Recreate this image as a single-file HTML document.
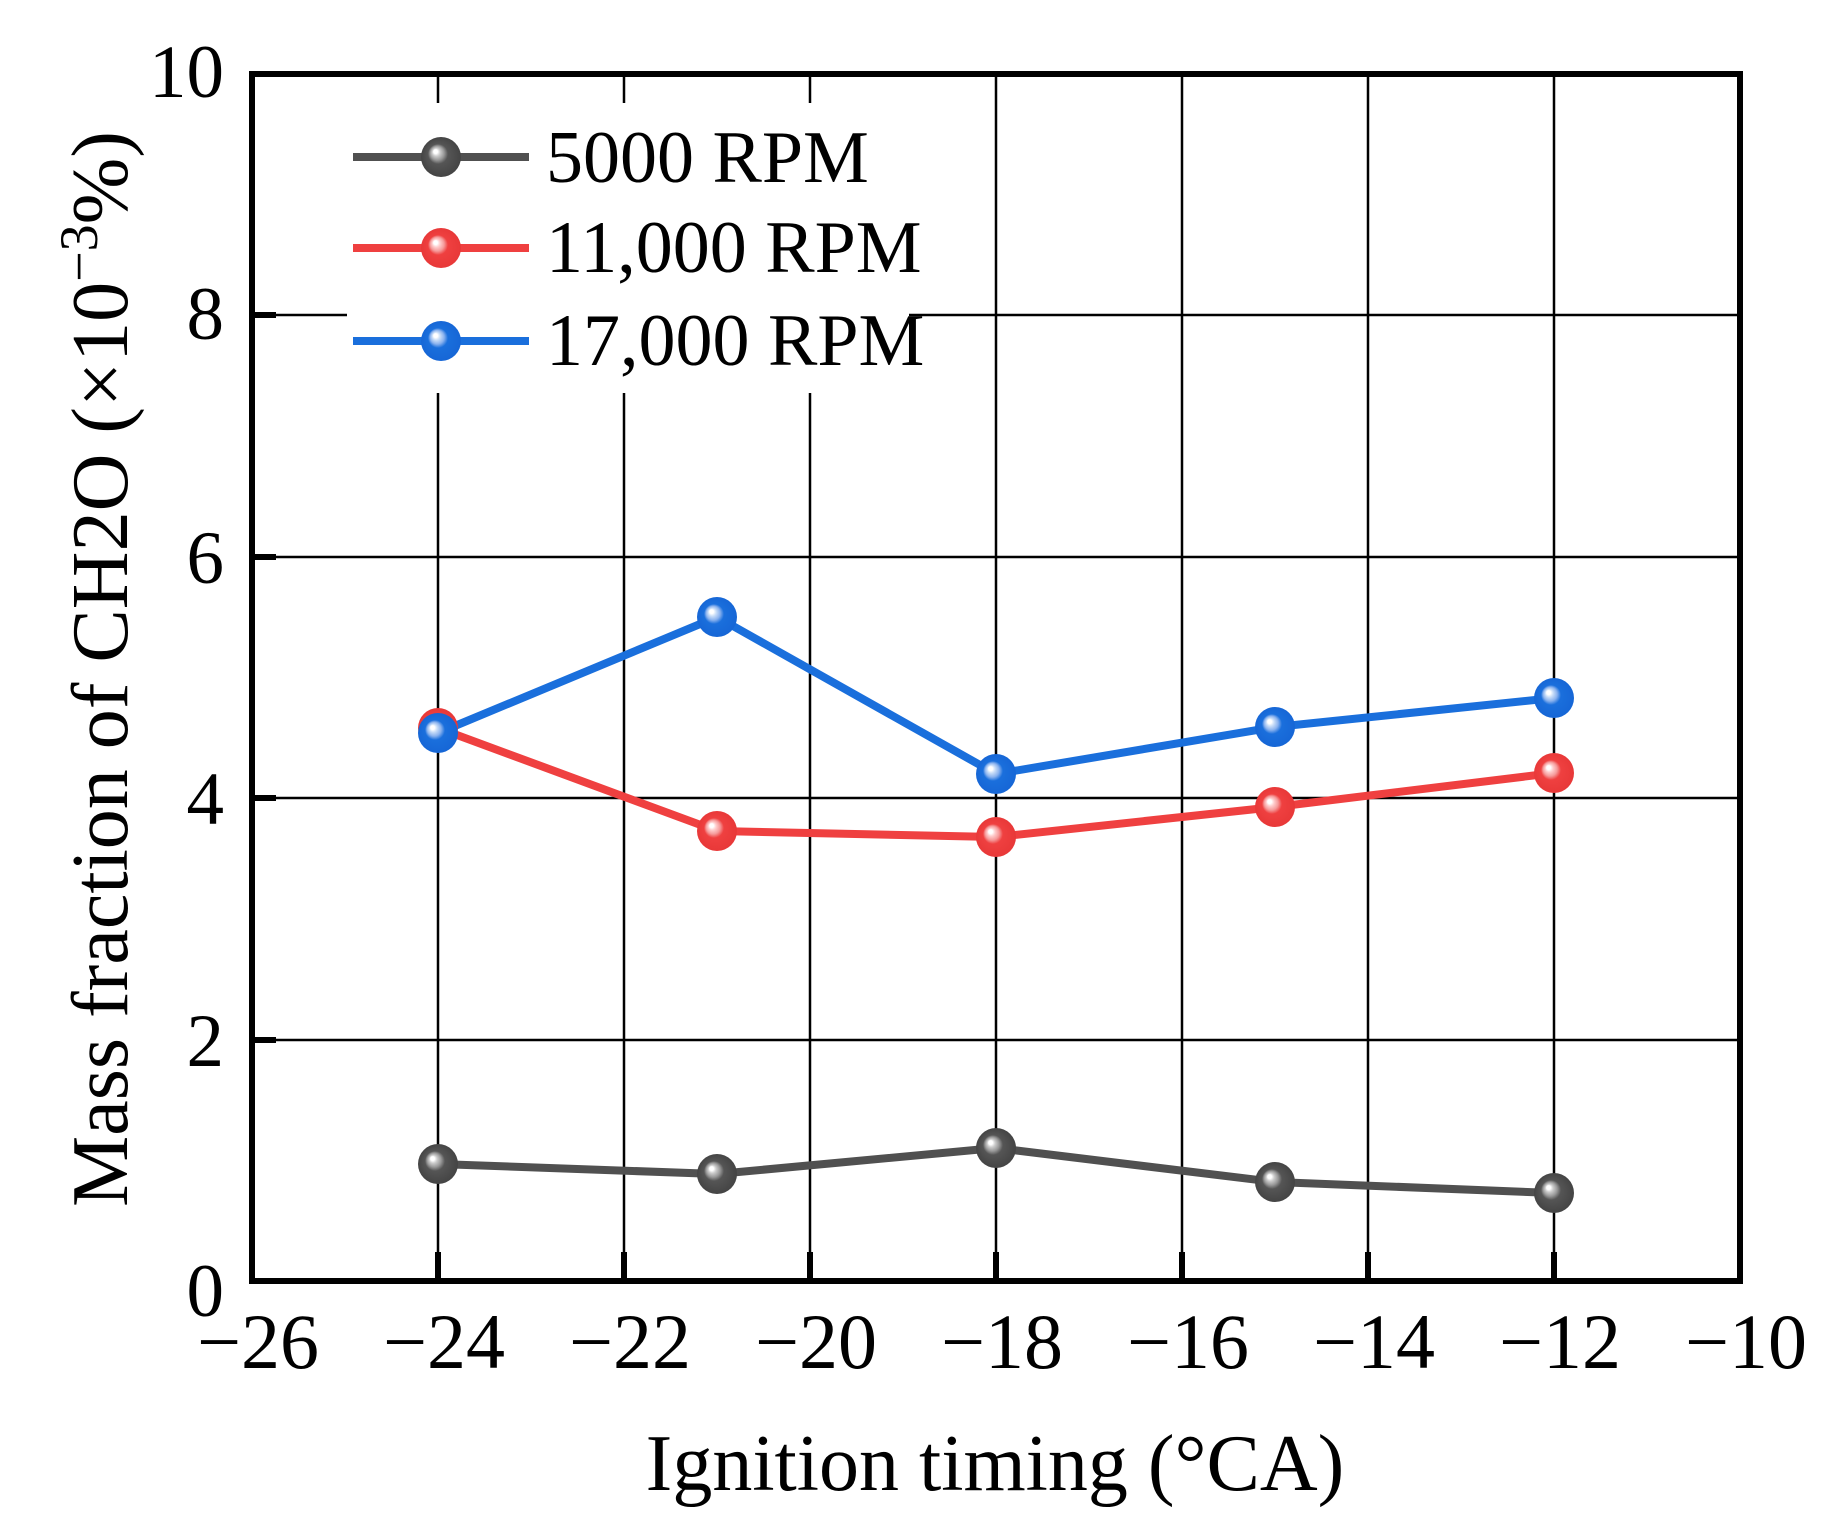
<!DOCTYPE html>
<html><head><meta charset="utf-8"><style>html,body{margin:0;padding:0;background:#fff}svg{display:block}</style></head>
<body>
<svg width="1833" height="1532" viewBox="0 0 1833 1532" xmlns="http://www.w3.org/2000/svg" font-family="'Liberation Serif', serif">
<defs>
<radialGradient id="gk" cx="0.5" cy="0.5" r="0.5" fx="0.35" fy="0.35"><stop offset="0" stop-color="#fff"/><stop offset="0.1" stop-color="#fff"/><stop offset="0.2" stop-color="#ccc"/><stop offset="0.35" stop-color="#999"/><stop offset="0.5" stop-color="#555"/><stop offset="1" stop-color="#444"/></radialGradient>
<radialGradient id="gr" cx="0.5" cy="0.5" r="0.5" fx="0.35" fy="0.35"><stop offset="0" stop-color="#fff"/><stop offset="0.1" stop-color="#fff"/><stop offset="0.2" stop-color="#fcc"/><stop offset="0.35" stop-color="#f59a9a"/><stop offset="0.5" stop-color="#ef4040"/><stop offset="1" stop-color="#e83838"/></radialGradient>
<radialGradient id="gb" cx="0.5" cy="0.5" r="0.5" fx="0.35" fy="0.35"><stop offset="0" stop-color="#fff"/><stop offset="0.1" stop-color="#fff"/><stop offset="0.2" stop-color="#c8ddf8"/><stop offset="0.35" stop-color="#8ab2ee"/><stop offset="0.5" stop-color="#1a6fdc"/><stop offset="1" stop-color="#1666d6"/></radialGradient>
</defs>
<g stroke="#000" stroke-width="2.5">
<line x1="438" y1="74" x2="438" y2="1281"/><line x1="624" y1="74" x2="624" y2="1281"/><line x1="810" y1="74" x2="810" y2="1281"/><line x1="996" y1="74" x2="996" y2="1281"/><line x1="1182" y1="74" x2="1182" y2="1281"/><line x1="1368" y1="74" x2="1368" y2="1281"/><line x1="1554" y1="74" x2="1554" y2="1281"/>
<line x1="252" y1="1040" x2="1740" y2="1040"/><line x1="252" y1="798" x2="1740" y2="798"/><line x1="252" y1="557" x2="1740" y2="557"/><line x1="252" y1="315" x2="1740" y2="315"/>
</g>
<rect x="347" y="103" width="562" height="290" fill="#fff"/>
<g stroke="#000" stroke-width="6">
<line x1="438" y1="1281" x2="438" y2="1252"/><line x1="624" y1="1281" x2="624" y2="1252"/><line x1="810" y1="1281" x2="810" y2="1252"/><line x1="996" y1="1281" x2="996" y2="1252"/><line x1="1182" y1="1281" x2="1182" y2="1252"/><line x1="1368" y1="1281" x2="1368" y2="1252"/><line x1="1554" y1="1281" x2="1554" y2="1252"/>
<line x1="252" y1="1040" x2="276" y2="1040"/><line x1="252" y1="798" x2="276" y2="798"/><line x1="252" y1="557" x2="276" y2="557"/><line x1="252" y1="315" x2="276" y2="315"/>
</g>
<g fill="none" stroke-width="8" stroke-linejoin="round">
<polyline stroke="#505050" points="438,1164 717,1174 996,1148 1275,1182 1554,1193"/>
<polyline stroke="#ef4040" points="438,728 717,831 996,837 1275,807 1554,773"/>
<polyline stroke="#1a6fdc" points="438,733 717,617 996,774 1275,727 1554,698"/>
</g>
<g>
<circle cx="438" cy="1164" r="20" fill="url(#gk)"/><circle cx="717" cy="1174" r="20" fill="url(#gk)"/><circle cx="996" cy="1148" r="20" fill="url(#gk)"/><circle cx="1275" cy="1182" r="20" fill="url(#gk)"/><circle cx="1554" cy="1193" r="20" fill="url(#gk)"/>
<circle cx="438" cy="728" r="20" fill="url(#gr)"/><circle cx="717" cy="831" r="20" fill="url(#gr)"/><circle cx="996" cy="837" r="20" fill="url(#gr)"/><circle cx="1275" cy="807" r="20" fill="url(#gr)"/><circle cx="1554" cy="773" r="20" fill="url(#gr)"/>
<circle cx="438" cy="733" r="20" fill="url(#gb)"/><circle cx="717" cy="617" r="20" fill="url(#gb)"/><circle cx="996" cy="774" r="20" fill="url(#gb)"/><circle cx="1275" cy="727" r="20" fill="url(#gb)"/><circle cx="1554" cy="698" r="20" fill="url(#gb)"/>
</g>
<line x1="353" y1="157" x2="529" y2="157" stroke="#505050" stroke-width="8"/><circle cx="441" cy="157" r="20" fill="url(#gk)"/>
<line x1="353" y1="248" x2="529" y2="248" stroke="#ef4040" stroke-width="8"/><circle cx="441" cy="248" r="20" fill="url(#gr)"/>
<line x1="353" y1="341" x2="529" y2="341" stroke="#1a6fdc" stroke-width="8"/><circle cx="441" cy="341" r="20" fill="url(#gb)"/>
<g font-size="74" fill="#000">
<text x="546" y="182">5000 RPM</text>
<text x="546" y="272">11,000 RPM</text>
<text x="546" y="365">17,000 RPM</text>
</g>
<rect x="252" y="74" width="1488" height="1207" fill="none" stroke="#000" stroke-width="6"/>
<g font-size="78" text-anchor="middle" fill="#000">
<text x="258" y="1368">−26</text><text x="444" y="1368">−24</text><text x="630" y="1368">−22</text><text x="816" y="1368">−20</text><text x="1002" y="1368">−18</text><text x="1188" y="1368">−16</text><text x="1374" y="1368">−14</text><text x="1560" y="1368">−12</text><text x="1746" y="1368">−10</text>
</g>
<g font-size="75" text-anchor="end" fill="#000">
<text x="224" y="1316">0</text><text x="224" y="1066">2</text><text x="224" y="824">4</text><text x="224" y="583">6</text><text x="224" y="339">8</text><text x="224" y="97">10</text>
</g>
<text x="995" y="1490" font-size="80" text-anchor="middle" fill="#000">Ignition timing (°CA)</text>
<text transform="translate(127,669) rotate(-90)" font-size="80" text-anchor="middle" fill="#000">Mass fraction of CH2O (×10<tspan dy="-30" font-size="54">−3</tspan><tspan dy="30">%)</tspan></text>
</svg>
</body></html>
